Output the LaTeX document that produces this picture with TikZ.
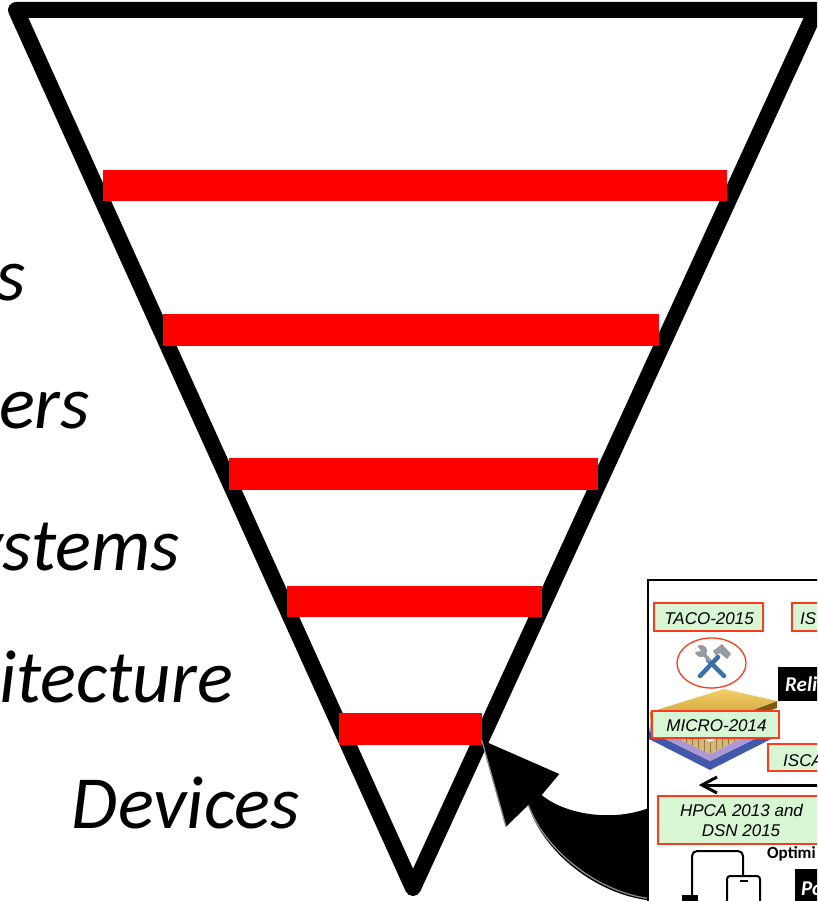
\documentclass[tikz,border=0pt]{standalone}
\usepackage{fontspec}
\setmainfont{Carlito}
\newfontfamily\helv{Liberation Sans}

\definecolor{barred}{RGB}{255,0,0}
\definecolor{venuered}{RGB}{250,60,30}
\definecolor{venuegreen}{RGB}{216,246,212}
\definecolor{gold1}{RGB}{242,208,105}
\definecolor{gold2}{RGB}{196,146,42}
\definecolor{gold3}{RGB}{125,88,22}
\definecolor{chipblue}{RGB}{66,88,170}
\definecolor{chiplilac}{RGB}{172,152,212}
\definecolor{chiptan}{RGB}{214,184,118}
\definecolor{toolblue}{RGB}{60,110,175}
\definecolor{toolgray}{RGB}{150,155,160}
\definecolor{bevel}{RGB}{140,140,140}

\begin{document}
\begin{tikzpicture}[x=1pt,y=-1pt,
  layertext/.style={font=\fontsize{75}{80}\selectfont\itshape, inner sep=0pt, anchor=base east},
  bar/.style={fill=barred},
  venuebox/.style={draw=venuered, fill=venuegreen, line width=1.5pt},
  venuetext/.style={font=\helv\fontsize{17}{20}\selectfont\itshape, inner sep=0pt},
  tagbox/.style={fill=black},
  tagtext/.style={font=\fontsize{21}{22}\selectfont\bfseries\itshape, text=white, inner sep=0pt, anchor=base west},
  device/.style={draw=black, line width=2pt, line join=round},
]
\useasboundingbox (0,0) rectangle (817,901);
\clip (0,0) rectangle (817,901);
\fill[white] (0,0) rectangle (817,901);

% the inverted funnel
\draw[line width=16pt, line join=round] (16,10) -- (816,10) -- (413,888) -- cycle;

% level separators
\fill[bar] (103,170) rectangle (727,201);
\fill[bar] (163,314) rectangle (659,346);
\fill[bar] (229,458) rectangle (598,490);
\fill[bar] (287,586) rectangle (542,617);
\fill[bar] (339,713) rectangle (482,745);

% level names
\node[layertext] (lvA) at (26,300) {s};
\node[layertext] (lvB) at (90,428) {ers};
\node[layertext] (lvC) at (180,570) {ystems};
\node[layertext] (lvD) at (233,702) {itecture};
\node[layertext] (lvE) at (300,828) {Devices};

% curved block arrow pointing at the device level
\coordinate (tip) at (481.7,740);
\coordinate (wingR) at (559.3,774);
\coordinate (notchR) at (541.7,795);
\coordinate (notchL) at (528.3,805);
\coordinate (wingL) at (506,826.7);
\fill[black] (tip) -- (wingR) -- (notchR)
  .. controls (565,815) and (620,825) .. (662,802)
  -- (662,910) -- (646.7,900)
  .. controls (595,893) and (543,852) .. (notchL)
  -- (wingL) -- cycle;
\begin{scope}[shift={(2,-1.5)}]
  \draw[bevel, line width=1.3pt] (tip) -- (wingL);
  \draw[bevel, line width=1.3pt] (646.7,900) .. controls (595,893) and (543,852) .. (notchL);
\end{scope}

% inset panel
\draw[line width=2.5pt, fill=white] (648,580) rectangle (840,930);

% venue tags
\draw[venuebox] (654,603) rectangle (763,631);
\node[venuetext, anchor=base] (taco) at (709,624) {TACO-2015};
\draw[venuebox] (792,603) rectangle (840,631);
\node[venuetext, anchor=base west] (isx) at (800,624) {IS};

% tools badge
\draw[venuered, line width=1.3pt] (711.5,663) ellipse [x radius=34.5, y radius=25];
\draw[toolblue, line width=4.5pt, line cap=round] (718,657) -- (700,676);
\draw[toolblue, line width=4.5pt, line cap=round] (708,660) -- (724,676);
\draw[toolgray, line width=3.5pt] (702,652) -- (710,661);
\fill[toolgray] (701,651) circle [radius=6];
\fill[white] (697,646) -- (701,651) -- (694,652) -- cycle;
\fill[toolgray] (713,651) -- (722,644) -- (731,654) -- (727,659) -- (720,653) -- (716,656) -- cycle;

% reliability tag
\fill[tagbox] (778,667) rectangle (840,701);
\node[tagtext] (reli) at (785,691) {Reli};

% chip
\fill[chipblue] (649,731) -- (710,761) -- (775,729) -- (775,737) -- (710,770) -- (649,739) -- cycle;
\fill[chiplilac] (650,725) -- (710,754) -- (774,722) -- (775,729) -- (710,761) -- (649,731) -- cycle;
\begin{scope}
  \clip (651,714) -- (710,742) -- (773,711) -- (774,722) -- (710,754) -- (650,725) -- cycle;
  \fill[chiptan] (640,700) rectangle (780,770);
  \foreach \gx in {656,662,...,770} \draw[gold3!80, line width=0.5pt] (\gx,705) -- (\gx,765);
  \draw[gold3!70, line width=0.5pt] (650,733) -- (710,762) -- (775,730);
  \draw[gold3!70, line width=0.5pt] (650,740) -- (710,769) -- (775,737);
\end{scope}
\fill[gold2] (650,712) -- (708,727) -- (708,733) -- (650,719) -- cycle;
\fill[gold3] (777,701) -- (708,727) -- (708,733) -- (777,708) -- cycle;
\shade[top color=gold1, bottom color=gold2] (650,712) -- (724,689) -- (777,701) -- (708,727) -- cycle;

\draw[venuebox] (652,711) rectangle (779,738);
\node[venuetext, anchor=base] (micro) at (716.5,731.5) {MICRO-2014};
\draw[venuebox] (768,744) rectangle (840,771);
\node[venuetext, anchor=base west] (isca) at (783,766) {ISCA};

% feedback arrow
\coordinate (fbR) at (840,785);
\coordinate (fbL) at (703,785);
\draw[line width=3pt] (fbR) -- (fbL);
\draw[line width=3pt, line join=miter] (717,777) -- (702,785) -- (717,793);

\draw[venuebox] (658,796) rectangle (840,844);
\node[venuetext, anchor=base] (hpca) at (741.5,816.7) {HPCA 2013 and};
\node[venuetext, anchor=base] (dsn) at (741,836.7) {DSN 2015};

% devices
\node[font=\fontsize{17}{18}\selectfont\bfseries, inner sep=0pt, anchor=base west] (opt) at (767,858) {Optimi};
\fill[black] (682,895) rectangle (698,905);
\draw[device, rounded corners=5pt] (692,905) -- (692,851) -- (743,851) -- (743,876);
\draw[device, fill=white, rounded corners=3pt] (727,876) rectangle (760,915);
\draw[line width=1.5pt] (740,881) -- (748,881);

\fill[tagbox] (795,869) rectangle (840,910);
\node[tagtext] (pox) at (801,895) {Po};
\end{tikzpicture}
\end{document}
